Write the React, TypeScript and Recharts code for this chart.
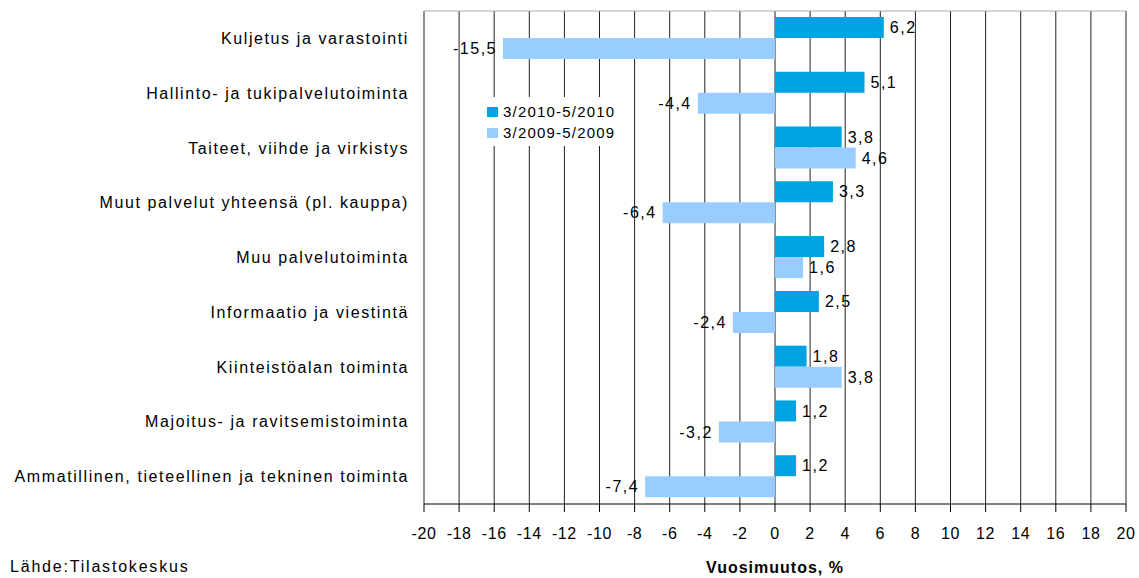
import React from 'react';
import { BarChart, Bar, XAxis, YAxis, CartesianGrid, Legend, LabelList } from 'recharts';

const categories = [
  'Kuljetus ja varastointi',
  'Hallinto- ja tukipalvelutoiminta',
  'Taiteet, viihde ja virkistys',
  'Muut palvelut yhteensä (pl. kauppa)',
  'Muu palvelutoiminta',
  'Informaatio ja viestintä',
  'Kiinteistöalan toiminta',
  'Majoitus- ja ravitsemistoiminta',
  'Ammatillinen, tieteellinen ja tekninen toiminta',
];
const values2010 = [6.2, 5.1, 3.8, 3.3, 2.8, 2.5, 1.8, 1.2, 1.2];
const values2009 = [-15.5, -4.4, 4.6, -6.4, 1.6, -2.4, 3.8, -3.2, -7.4];
const xTicks = [-20, -18, -16, -14, -12, -10, -8, -6, -4, -2, 0, 2, 4, 6, 8, 10, 12, 14, 16, 18, 20];
const seriesNames = ['3/2010-5/2010', '3/2009-5/2009'];
const axisTitle = 'Vuosimuutos, %';
const sourceText = 'Lähde:Tilastokeskus';

const DARK = '#00A3E2';
const LIGHT = '#99CCFF';
const FONT = '"Liberation Sans", Arial, sans-serif';

const data = categories.map((name, i) => ({ name, v2010: values2010[i], v2009: values2009[i] }));

const fmt = (v: number) => String(v).replace('.', ',');

const YTick = (props: any) => {
  const { y, payload } = props;
  return (
    <text x={409} y={y} dy="0.35em" textAnchor="end" fontSize={16} fontFamily={FONT} fill="#000" letterSpacing={1.6}>
      {payload.value}
    </text>
  );
};

const XTick = (props: any) => {
  const { x, payload } = props;
  return (
    <text x={x} y={533} dy="0.35em" textAnchor="middle" fontSize={16} fontFamily={FONT} fill="#000" letterSpacing={0.6}>
      {String(payload.value)}
    </text>
  );
};

const ValueLabel = (props: any) => {
  const { x, y, width, height, value } = props;
  const a = Number(x);
  const b = Number(x) + Number(width);
  const cy = Number(y) + Number(height) / 2;
  if (value >= 0) {
    const end = Math.max(a, b);
    return (
      <text x={end + 6} y={cy} dy="0.35em" textAnchor="start" fontSize={16} fontFamily={FONT} fill="#000" letterSpacing={1.5}>
        {fmt(value)}
      </text>
    );
  }
  const end = Math.min(a, b);
  return (
    <text x={end - 6} y={cy} dy="0.35em" textAnchor="end" fontSize={16} fontFamily={FONT} fill="#000" letterSpacing={1.5}>
      {fmt(value)}
    </text>
  );
};

const LegendContent = () => (
  <div style={{ fontFamily: FONT, fontSize: 15, color: '#000', letterSpacing: 1.2 }}>
    {[DARK, LIGHT].map((c, i) => (
      <div key={i} style={{ display: 'flex', alignItems: 'center', height: 21, marginTop: i === 0 ? 4 : 0 }}>
        <span style={{ display: 'inline-block', width: 11, height: 10, background: c, marginLeft: 9, marginRight: 5 }} />
        <span>{seriesNames[i]}</span>
      </div>
    ))}
  </div>
);

const AxisTitle = (props: any) => {
  const { viewBox } = props;
  const cx = viewBox.x + viewBox.width / 2;
  return (
    <text x={cx} y={567} dy="0.35em" textAnchor="middle" fontSize={16} fontWeight="bold" fontFamily={FONT} fill="#000" letterSpacing={1}>
      {axisTitle}
    </text>
  );
};

export default function App() {
  return (
    <div style={{ position: 'absolute', left: 0, top: 0, width: 1139, height: 578, background: '#fff' }}>
      <BarChart
        width={1139}
        height={578}
        data={data}
        layout="vertical"
        margin={{ top: 11, right: 13, left: 0, bottom: 0 }}
        barCategoryGap={6}
        barGap={0}
      >
        <CartesianGrid horizontal={false} stroke="#222" />
        <CartesianGrid vertical={false} horizontalPoints={[11]} stroke="#aaa" />
        <XAxis
          type="number"
          domain={[-20, 20]}
          ticks={xTicks}
          interval={0}
          height={74}
          axisLine={{ stroke: '#000' }}
          tickLine={{ stroke: '#000' }}
          tickSize={8}
          tick={<XTick />}
          label={<AxisTitle />}
        />
        <YAxis type="category" dataKey="name" width={424} axisLine={false} tickLine={false} tick={<YTick />} interval={0} />
        <Legend
          layout="vertical"
          align="center"
          verticalAlign="middle"
          content={<LegendContent />}
          wrapperStyle={{ position: 'absolute', left: 478, top: 97, width: 144, height: 49, background: '#fff' }}
        />
        <Bar dataKey="v2010" name={seriesNames[0]} fill={DARK} isAnimationActive={false}>
          <LabelList dataKey="v2010" content={<ValueLabel />} />
        </Bar>
        <Bar dataKey="v2009" name={seriesNames[1]} fill={LIGHT} isAnimationActive={false}>
          <LabelList dataKey="v2009" content={<ValueLabel />} />
        </Bar>
      </BarChart>
      <div style={{ position: 'absolute', left: 10, top: 558, fontFamily: FONT, fontSize: 16, letterSpacing: 1.8, color: '#000', whiteSpace: 'nowrap' }}>
        {sourceText}
      </div>
    </div>
  );
}
